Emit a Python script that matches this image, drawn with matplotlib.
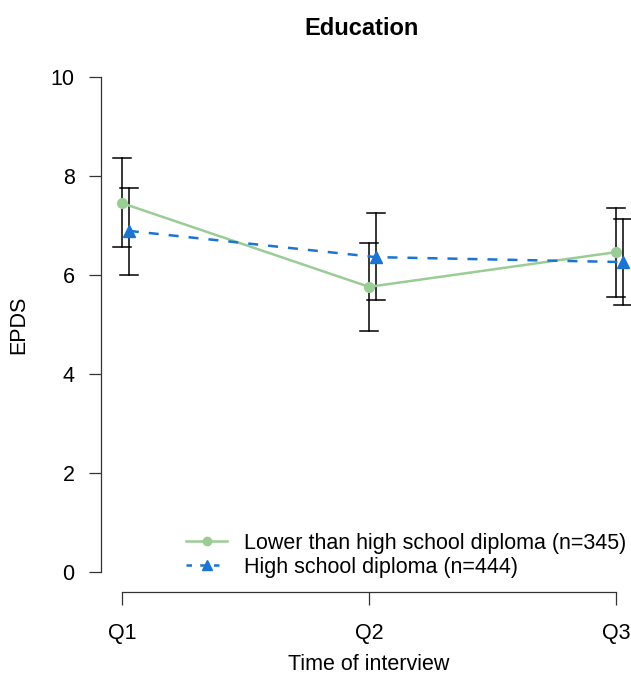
import matplotlib.pyplot as plt
from matplotlib.lines import Line2D

# Valores
quarters = ['Q1', 'Q2', 'Q3']
x_pos = [1, 2, 3]
low_mean = [7.45, 5.76, 6.46]
low_upper = [8.36, 6.65, 7.35]
low_lower = [6.57, 4.87, 5.56]
high_mean = [6.89, 6.36, 6.26]
high_upper = [7.76, 7.25, 7.13]
high_lower = [6.00, 5.49, 5.39]
labels = ['Lower than high school diploma (n=345)', 'High school diploma (n=444)']

green = '#9acd95'
blue = '#1c74d2'
offset = 0.028
cap = 0.037

plt.rcParams['font.family'] = ['Liberation Sans', 'DejaVu Sans']

fig = plt.figure(figsize=(6.31, 6.76), dpi=100)
ax = fig.add_axes([0.160, 0.1243, 0.840, 0.7914])

x_high = [x + offset for x in x_pos]

# barras de erro (pretas, com traços nas pontas)
for xs, lo, hi in [(x_pos, low_lower, low_upper), (x_high, high_lower, high_upper)]:
    for x, l, h in zip(xs, lo, hi):
        ax.plot([x, x], [l, h], color='black', lw=1.1, zorder=2)
        ax.plot([x - cap, x + cap], [h, h], color='black', lw=1.1, zorder=2)
        ax.plot([x - cap, x + cap], [l, l], color='black', lw=1.1, zorder=2)

ax.plot(x_pos, low_mean, color=green, lw=1.8, marker='o', markersize=7, zorder=3)
ax.plot(x_high, high_mean, color=blue, lw=1.8, ls=(0, (4, 4)), marker='^',
        markersize=8, zorder=3)

ax.set_xlim(0.915, 3.061)
ax.set_ylim(-0.40, 10.40)
ax.set_xticks(x_pos)
ax.set_xticklabels(quarters)
ax.set_yticks([0, 2, 4, 6, 8, 10])

for s in ['top', 'right']:
    ax.spines[s].set_visible(False)
ax.spines['left'].set_bounds(0, 10)
ax.spines['bottom'].set_bounds(1, 3)
for s in ['left', 'bottom']:
    ax.spines[s].set_linewidth(0.9)
    ax.spines[s].set_color('#333333')
ax.tick_params(axis='both', length=9, width=0.9, color='#333333', labelsize=15.5, pad=10)
ax.tick_params(axis='x', pad=13)

ax.set_ylabel('EPDS', fontsize=15.5, labelpad=15)
fig.text(0.585, 1 - 665 / 676, 'Time of interview', ha='center', va='center', fontsize=15.5)
fig.text(0.573, 0.958, 'Education', ha='center', va='center', fontsize=17, fontweight='bold')

handles = [
    Line2D([], [], color=green, lw=1.8, marker='o', markersize=6),
    Line2D([], [], color=blue, lw=1.8, ls=(0, (2.2, 3.3)), marker='^', markersize=7),
]
ax.legend(handles, labels, loc='lower right', bbox_to_anchor=(1.018, 0.0), frameon=False,
          fontsize=15.5, handlelength=1.9, handletextpad=0.8, labelspacing=0.15,
          borderaxespad=0.25)

fig.savefig('out.png', dpi=100)
